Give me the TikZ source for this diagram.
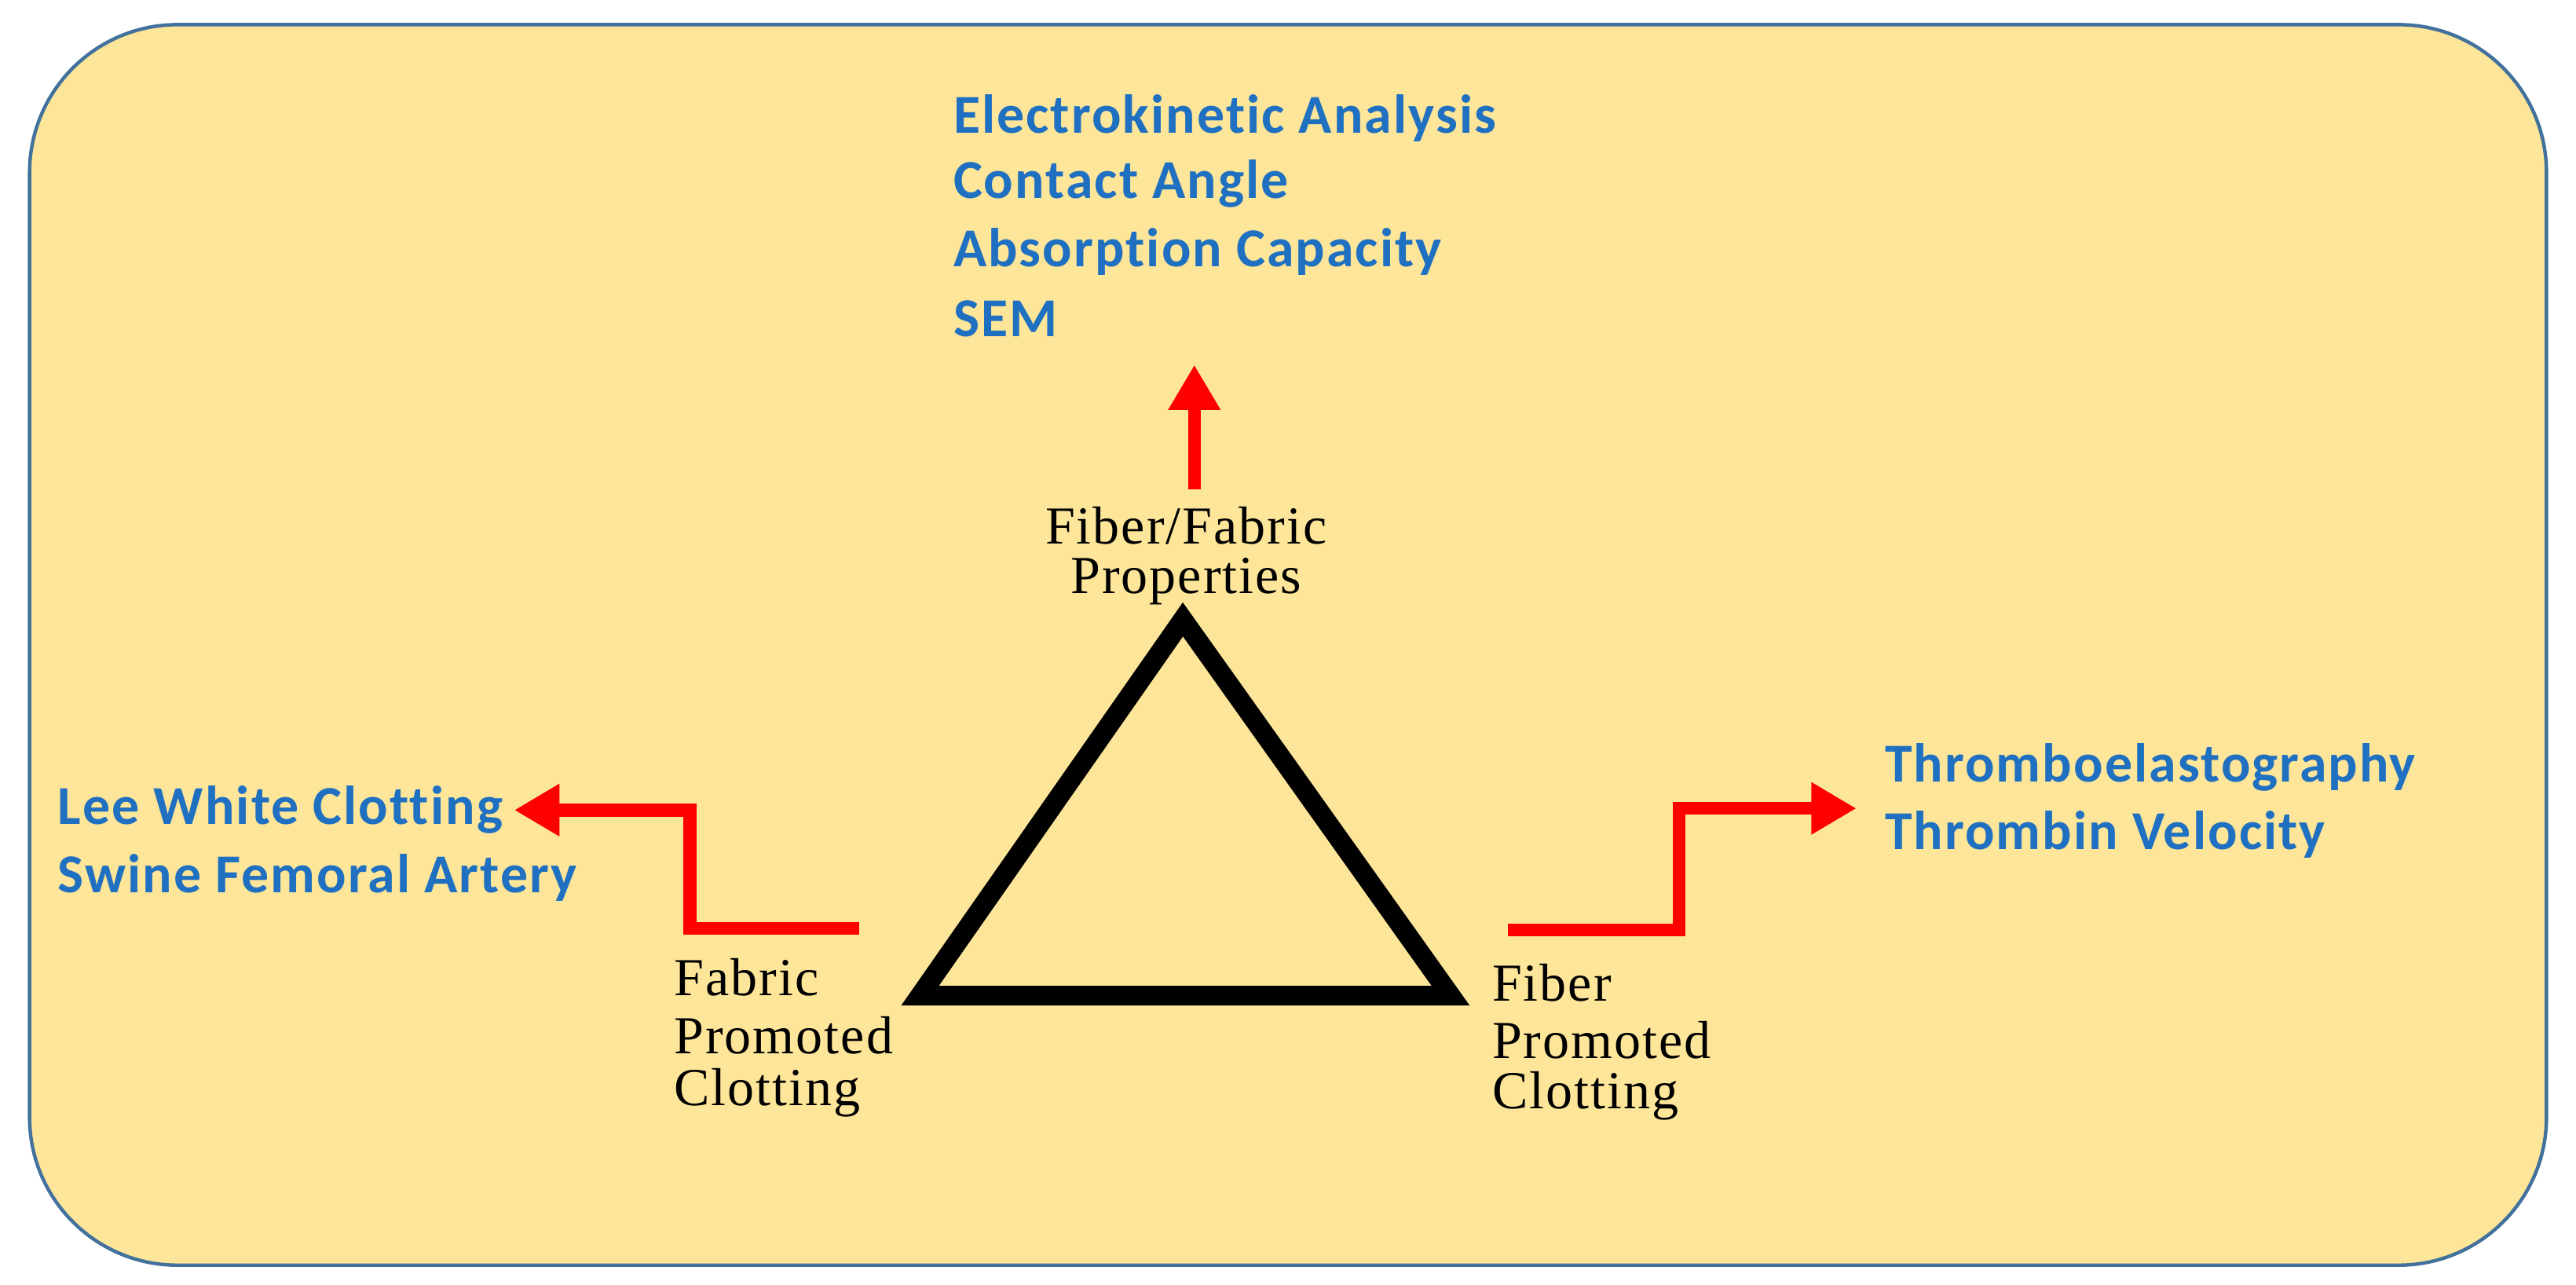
\documentclass[tikz,border=0pt]{standalone}
\usepackage{fontspec}
\setmainfont[LetterSpace=3]{Liberation Serif}
\newfontfamily\blueface[Ligatures=NoCommon,LetterSpace=3]{Carlito}
\usetikzlibrary{arrows.meta}
\definecolor{bgfill}{RGB}{253,229,153}
\definecolor{bgdraw}{RGB}{65,113,156}
\definecolor{txtblue}{RGB}{31,112,193}
\tikzset{
  bluetxt/.style={anchor=west,inner sep=0pt,text=txtblue,font=\blueface\bfseries\fontsize{19}{22}\selectfont},
  blacktxt/.style={inner sep=0pt,font=\fontsize{18.5}{20}\selectfont},
  redarrow/.style={draw=red,line width=4.5pt,-{Triangle[length=0.55cm,width=0.6cm]}}
}
\begin{document}
\begin{tikzpicture}[x=0.02cm,y=-0.02cm]
\useasboundingbox (0,0) rectangle (1568,782);
\draw[bgdraw,fill=bgfill,line width=1.2pt,rounded corners=1.8cm] (18,15) rectangle (1550,770);
% triangle
\coordinate (apex) at (720,377);
\coordinate (bl) at (560,606);
\coordinate (br) at (883,606);
\draw[line width=6.8pt,line join=miter] (apex) -- (bl) -- (br) -- cycle;
% labels
\node[blacktxt] (t1) at (722,320) {Fiber/Fabric};
\node[blacktxt] (t2) at (722,354) {Properties};
\node[blacktxt,anchor=west] (l1) at (410,595) {Fabric};
\node[blacktxt,anchor=west] (l2) at (410,630) {Promoted};
\node[blacktxt,anchor=west] (l3) at (410,665) {Clotting};
\node[blacktxt,anchor=west] (r1) at (908,598) {Fiber};
\node[blacktxt,anchor=west] (r2) at (908,633) {Promoted};
\node[blacktxt,anchor=west] (r3) at (908,667) {Clotting};
% blue lists
\node[bluetxt] (a1) at (580,72) {Electrokinetic Analysis};
\node[bluetxt] (a2) at (580,112) {Contact Angle};
\node[bluetxt] (a3) at (580,153) {Absorption Capacity};
\node[bluetxt] (a4) at (580,194) {SEM};
\node[bluetxt] (b1) at (35,493) {Lee White Clotting};
\node[bluetxt] (b2) at (35,534) {Swine Femoral Artery};
\node[bluetxt] (c1) at (1147,467) {Thromboelastography};
\node[bluetxt] (c2) at (1147,508) {Thrombin Velocity};
% arrows
\coordinate (u0) at (727,298);
\coordinate (u1) at (727,222);
\draw[redarrow] (u0) -- (u1);
\coordinate (la) at (523,565);
\coordinate (lb) at (313,493);
\draw[redarrow] (la) -- (420,565) -- (420,493) -- (lb);
\coordinate (ra) at (918,566);
\coordinate (rb) at (1130,492);
\draw[redarrow] (ra) -- (1022,566) -- (1022,492) -- (rb);
\end{tikzpicture}
\end{document}
